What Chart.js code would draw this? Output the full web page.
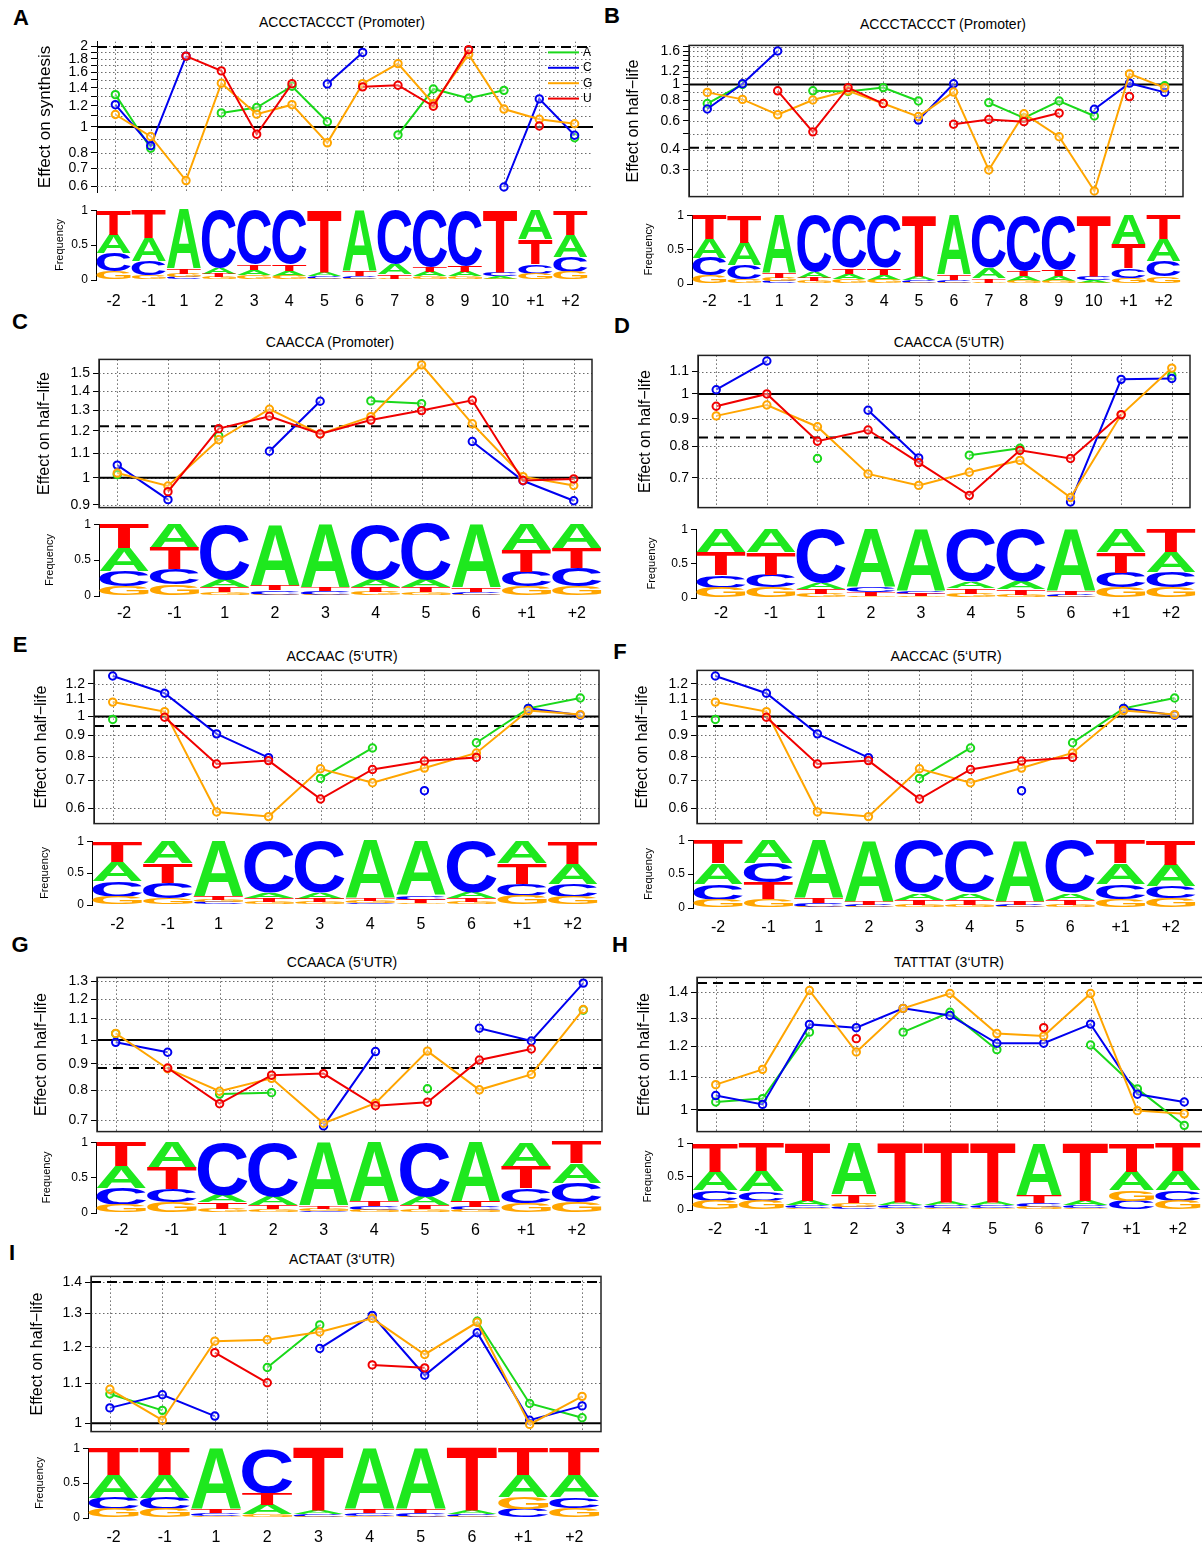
<!DOCTYPE html>
<html>
<head>
<meta charset="utf-8">
<script src="https://cdn.jsdelivr.net/npm/chart.js@4.4.1/dist/chart.umd.min.js"></script>
<style>
  body { margin: 0; background: #fff; width: 1202px; height: 1546px; position: relative; overflow: hidden;
         font-family: "Liberation Sans", Arial, Helvetica, sans-serif; }
  canvas { position: absolute; }
  .plet { position: absolute; font-weight: bold; font-size: 22px; line-height: 22px; transform: translate(-50%, -50%); }
  .ptitle { position: absolute; font-size: 14px; line-height: 16px; white-space: nowrap; transform: translate(-50%, -50%); }
</style>
</head>
<body>
<script>
// positions along the motif
const posAB = ['-2', '-1', '1', '2', '3', '4', '5', '6', '7', '8', '9', '10', '+1', '+2'];
const pos6 = ['-2', '-1', '1', '2', '3', '4', '5', '6', '+1', '+2'];
const pos7 = ['-2', '-1', '1', '2', '3', '4', '5', '6', '7', '+1', '+2'];

// A: ACCCTACCCT (Promoter), effect on synthesis
const synA_A = [1.32, 0.832, null, 1.128, 1.182, 1.42, 1.045, null, 0.934, 1.386, 1.28, 1.37, null, 0.911];
const synA_C = [1.211, 0.851, 1.84, null, null, null, 1.447, 1.899, null, null, null, 0.596, 1.273, 0.931];
const synA_G = [1.113, 0.921, 0.63, 1.456, 1.116, 1.211, 0.872, 1.451, 1.725, 1.222, 1.867, 1.166, 1.068, 1.028];
const synA_U = [null, null, 1.84, 1.62, 0.939, 1.451, null, 1.412, 1.432, 1.195, 1.946, null, 1.008, null];
const dashA = 1.99;

// B: ACCCTACCCT (Promoter), effect on half-life
const hlB_A = [0.764, 1.0, null, 0.914, 0.906, 0.956, 0.792, null, 0.774, 0.624, 0.792, 0.641, null, 0.982];
const hlB_C = [0.708, 1.009, 1.601, null, null, null, 0.605, 1.009, null, null, null, 0.705, 1.018, 0.894];
const hlB_G = [0.894, 0.81, 0.653, 0.803, 0.914, 0.764, 0.636, 0.898, 0.3, 0.662, 0.479, 0.223, 1.16, 0.956];
const hlB_U = [null, null, 0.914, 0.513, 0.956, 0.764, null, 0.571, 0.61, 0.592, 0.668, null, 0.843, null];
const dashB = 0.41;

// C: CAACCA (Promoter)
const hlC_A = [1.012, null, 1.177, null, null, 1.348, 1.334, null, null, null];
const hlC_C = [1.05, 0.918, null, 1.108, 1.346, null, null, 1.151, 0.988, 0.914];
const hlC_G = [1.018, 0.968, 1.159, 1.305, 1.185, 1.268, 1.551, 1.233, 1.004, 0.97];
const hlC_U = [null, 0.947, 1.21, 1.27, 1.185, 1.251, 1.298, 1.351, 0.989, 0.995];
const dashC = 1.221;

// D: CAACCA (5'UTR)
const hlD_A = [null, null, 0.76, null, null, 0.771, 0.794, null, null, 1.081];
const hlD_C = [1.018, 1.15, null, 0.933, 0.762, null, null, 0.632, 1.064, 1.068];
const hlD_G = [0.911, 0.954, 0.87, 0.712, 0.678, 0.717, 0.754, 0.644, 0.915, 1.116];
const hlD_U = [0.949, 1.0, 0.818, 0.858, 0.747, 0.65, 0.787, 0.76, 0.916, null];
const dashD = 0.831;

// E and F: same curves (ACCAAC / AACCAC, 5'UTR)
const hlE_A = [0.984, null, null, null, 0.708, 0.839, null, 0.864, 1.047, 1.109];
const hlE_C = [1.254, 1.139, 0.908, 0.795, null, null, 0.661, null, 1.047, 1.007];
const hlE_G = [1.084, 1.028, 0.587, 0.572, 0.747, 0.691, 0.75, 0.816, 1.034, 1.011];
const hlE_U = [null, 0.996, 0.767, 0.782, 0.631, 0.744, 0.78, 0.796, null, null];
const dashE = 0.949;

// G: CCAACA (5'UTR)
const hlG_A = [1.029, null, 0.786, 0.791, null, null, 0.805, null, null, 1.143];
const hlG_C = [0.99, 0.947, null, null, 0.682, 0.95, null, 1.054, 0.996, 1.289];
const hlG_G = [1.03, 0.88, 0.796, 0.843, 0.69, 0.755, 0.952, 0.801, 0.858, 1.146];
const hlG_U = [null, 0.883, 0.753, 0.855, 0.861, 0.746, 0.758, 0.915, 0.961, null];
const dashG = 0.883;

// H: TATTTAT (3'UTR)
const hlH_A = [1.023, 1.033, 1.249, null, 1.249, 1.322, 1.188, null, 1.204, 1.062, 0.957];
const hlH_C = [1.042, 1.016, 1.277, 1.265, 1.337, 1.31, 1.21, 1.21, 1.278, 1.046, 1.023];
const hlH_G = [1.075, 1.123, 1.407, 1.18, 1.337, 1.395, 1.244, 1.235, 1.395, 0.998, 0.989];
const hlH_U = [null, null, null, 1.226, null, null, null, 1.265, null, null, null];
const dashH = 1.437;

// I: ACTAAT (3'UTR)
const hlI_A = [1.072, 1.031, null, 1.142, 1.264, null, null, 1.275, 1.048, 1.013];
const hlI_C = [1.037, 1.07, 1.017, null, 1.195, 1.293, 1.121, 1.241, 1.007, 1.042];
const hlI_G = [1.084, 1.007, 1.216, 1.22, 1.243, 1.284, 1.178, 1.272, 0.997, 1.066];
const hlI_U = [null, null, 1.183, 1.101, null, 1.149, 1.141, null, null, null];
const dashI = 1.4;

// y ticks (gridlines) and which of them get a label
const ticksA = [0.6, 0.7, 0.8, 0.9, 1, 1.1, 1.2, 1.3, 1.4, 1.5, 1.6, 1.7, 1.8, 1.9, 2];
const labelsA = [0.6, 0.7, 0.8, 1, 1.2, 1.4, 1.6, 1.8, 2];
const ticksB = [0.3, 0.4, 0.5, 0.6, 0.7, 0.8, 0.9, 1, 1.1, 1.2, 1.3, 1.4, 1.5, 1.6, 1.7];
const labelsB = [0.3, 0.4, 0.6, 0.8, 1, 1.2, 1.6];
const ticksC = [0.9, 1, 1.1, 1.2, 1.3, 1.4, 1.5];
const ticksD = [0.7, 0.8, 0.9, 1, 1.1];
const ticksE = [0.6, 0.7, 0.8, 0.9, 1, 1.1, 1.2];
const ticksG = [0.7, 0.8, 0.9, 1, 1.1, 1.2, 1.3];
const ticksH = [1, 1.1, 1.2, 1.3, 1.4];
const ticksI = [1, 1.1, 1.2, 1.3, 1.4];

// sequence logo frequencies (A, C, G, T) per position
const lgAB_A = [.27, .33, .84, .09, .08, .07, .06, .86, .15, .07, .07, .04, .42, .32];
const lgAB_C = [.26, .20, .04, .82, .77, .77, .04, .04, .77, .81, .79, .06, .14, .22];
const lgAB_G = [.12, .07, .05, .04, .07, .06, .02, .02, .02, .05, .05, .02, .09, .11];
const lgAB_T = [.35, .40, .07, .05, .08, .10, .88, .08, .06, .07, .09, .88, .35, .35];

const lgC_A = [.32, .33, .11, .85, .88, .10, .10, .88, .36, .33];
const lgC_C = [.21, .21, .77, .06, .05, .77, .78, .04, .21, .25];
const lgC_G = [.14, .16, .05, .02, .02, .06, .05, .02, .13, .14];
const lgC_T = [.33, .30, .07, .07, .05, .07, .07, .06, .30, .28];

const lgD_A = [.34, .34, .09, .85, .90, .10, .11, .90, .33, .30];
const lgD_C = [.18, .19, .78, .07, .04, .76, .76, .03, .22, .22];
const lgD_G = [.15, .15, .06, .03, .03, .06, .05, .02, .15, .15];
const lgD_T = [.33, .32, .07, .05, .03, .08, .08, .05, .30, .33];

const lgE_A = [.30, .34, .86, .08, .09, .90, .85, .09, .35, .32];
const lgE_C = [.25, .24, .04, .81, .81, .03, .07, .80, .19, .20];
const lgE_G = [.12, .11, .04, .05, .04, .03, .03, .05, .14, .13];
const lgE_T = [.33, .31, .06, .06, .06, .04, .05, .06, .32, .35];

const lgF_A = [.31, .34, .86, .90, .10, .10, .90, .10, .31, .32];
const lgF_C = [.23, .28, .05, .03, .78, .78, .03, .78, .22, .18];
const lgF_G = [.12, .13, .02, .02, .05, .04, .02, .04, .13, .14];
const lgF_T = [.34, .25, .07, .05, .07, .08, .05, .08, .34, .36];

const lgG_A = [.31, .36, .10, .12, .90, .83, .12, .83, .35, .28];
const lgG_C = [.24, .19, .75, .77, .03, .06, .77, .05, .21, .27];
const lgG_G = [.11, .15, .06, .05, .03, .04, .05, .04, .14, .15];
const lgG_T = [.34, .30, .09, .06, .04, .07, .06, .08, .30, .30];

const lgH_A = [.28, .30, .07, .77, .05, .05, .05, .78, .07, .28, .29];
const lgH_C = [.15, .145, .04, .05, .04, .04, .04, .06, .04, .14, .15];
const lgH_G = [.14, .135, .03, .06, .03, .03, .03, .04, .03, .15, .14];
const lgH_T = [.43, .42, .86, .12, .88, .88, .88, .12, .86, .43, .42];

const lgI_A = [.33, .33, .87, .14, .05, .87, .87, .05, .32, .32];
const lgI_C = [.16, .16, .04, .65, .03, .04, .05, .03, .13, .155];
const lgI_G = [.13, .13, .03, .05, .02, .03, .02, .02, .17, .145];
const lgI_T = [.38, .38, .06, .16, .90, .06, .06, .90, .38, .38];

const FONT = '"Liberation Sans", Arial, Helvetica, sans-serif';
Chart.defaults.font.family = FONT;
Chart.defaults.color = '#000';

const BASES = ['A', 'C', 'G', 'U'];
const LINE_COL = ['#1ad81a', '#0000f0', '#ffa500', '#f00000'];
const LOGO_CHR = ['A', 'C', 'G', 'T'];
const LOGO_COL = ['#1ee81e', '#0000ff', '#ffa500', '#ff0000'];

const panels = [
  { key: 'A', at: [21, 18], title: 'ACCCTACCCT (Promoter)', titleAt: [342, 22], pos: posAB,
    series: [synA_A, synA_C, synA_G, synA_U], dash: dashA, ticks: ticksA, labels: labelsA,
    yTitle: 'Effect on synthesis', box: [97, 38, 593, 196], ytx: 45, frame: false, legend: true,
    logo: [lgAB_A, lgAB_C, lgAB_G, lgAB_T], lbox: [96, 208, 588, 280], labY: 299, fx: 60 },
  { key: 'B', at: [612, 16], title: 'ACCCTACCCT (Promoter)', titleAt: [943, 24], pos: posAB,
    series: [hlB_A, hlB_C, hlB_G, hlB_U], dash: dashB, ticks: ticksB, labels: labelsB,
    yTitle: 'Effect on half\u2212life', box: [689, 42, 1183, 200], ytx: 634, frame: true,
    logo: [lgAB_A, lgAB_C, lgAB_G, lgAB_T], lbox: [692, 213, 1181, 284], labY: 299, fx: 649 },
  { key: 'C', at: [20, 322], title: 'CAACCA (Promoter)', titleAt: [330, 342], pos: pos6,
    series: [hlC_A, hlC_C, hlC_G, hlC_U], dash: dashC, ticks: ticksC, labels: ticksC,
    yTitle: 'Effect on half\u2212life', box: [99, 356, 592, 511], ytx: 45, frame: true,
    logo: [lgC_A, lgC_C, lgC_G, lgC_T], lbox: [99, 522, 602, 596], labY: 611, fx: 50 },
  { key: 'D', at: [622, 326], title: 'CAACCA (5\u2018UTR)', titleAt: [949, 342], pos: pos6,
    series: [hlD_A, hlD_C, hlD_G, hlD_U], dash: dashD, ticks: ticksD, labels: ticksD,
    yTitle: 'Effect on half\u2212life', box: [698, 352, 1190, 511], ytx: 646, frame: true,
    logo: [lgD_A, lgD_C, lgD_G, lgD_T], lbox: [696, 527, 1196, 598], labY: 611, fx: 652 },
  { key: 'E', at: [20, 645], title: 'ACCAAC (5\u2018UTR)', titleAt: [342, 656], pos: pos6,
    series: [hlE_A, hlE_C, hlE_G, hlE_U], dash: dashE, ticks: ticksE, labels: ticksE,
    yTitle: 'Effect on half\u2212life', box: [94, 667, 599, 827], ytx: 42, frame: true,
    logo: [lgE_A, lgE_C, lgE_G, lgE_T], lbox: [92, 839, 598, 905], labY: 922, fx: 45 },
  { key: 'F', at: [620, 652], title: 'AACCAC (5\u2018UTR)', titleAt: [946, 656], pos: pos6,
    series: [hlE_A, hlE_C, hlE_G, hlE_U], dash: dashE, ticks: ticksE, labels: ticksE,
    yTitle: 'Effect on half\u2212life', box: [697, 667, 1193, 827], ytx: 643, frame: true,
    logo: [lgF_A, lgF_C, lgF_G, lgF_T], lbox: [693, 838, 1196, 908], labY: 925, fx: 649 },
  { key: 'G', at: [20, 945], title: 'CCAACA (5\u2018UTR)', titleAt: [342, 962], pos: pos6,
    series: [hlG_A, hlG_C, hlG_G, hlG_U], dash: dashG, ticks: ticksG, labels: ticksG,
    yTitle: 'Effect on half\u2212life', box: [97, 974, 602, 1135], ytx: 42, frame: true,
    logo: [lgG_A, lgG_C, lgG_G, lgG_T], lbox: [96, 1140, 602, 1213], labY: 1228, fx: 47 },
  { key: 'H', at: [620, 945], title: 'TATTTAT (3\u2018UTR)', titleAt: [949, 962], pos: pos7,
    series: [hlH_A, hlH_C, hlH_G, hlH_U], dash: dashH, ticks: ticksH, labels: ticksH,
    yTitle: 'Effect on half\u2212life', box: [697, 974, 1203, 1135], ytx: 645, frame: true,
    logo: [lgH_A, lgH_C, lgH_G, lgH_T], lbox: [692, 1141, 1201, 1210], labY: 1227, fx: 648 },
  { key: 'I', at: [12, 1253], title: 'ACTAAT (3\u2018UTR)', titleAt: [342, 1259], pos: pos6,
    series: [hlI_A, hlI_C, hlI_G, hlI_U], dash: dashI, ticks: ticksI, labels: ticksI,
    yTitle: 'Effect on half\u2212life', box: [91, 1273, 601, 1435], ytx: 38, frame: true,
    logo: [lgI_A, lgI_C, lgI_G, lgI_T], lbox: [88, 1446, 600, 1518], labY: 1535, fx: 40 }
];

// R style axis limits: range of everything plotted, widened by 4% on a log scale
function rRange(series, extra) {
  const vals = extra.slice();
  series.forEach(s => s.forEach(v => { if (v != null) vals.push(v); }));
  const lo = Math.log(Math.min(...vals)), hi = Math.log(Math.max(...vals));
  const d = (hi - lo) * 0.04;
  return [Math.exp(lo - d), Math.exp(hi + d)];
}

function fmt(v) { return String(+v.toFixed(2)); }

function addCanvas(left, top, w, h) {
  const c = document.createElement('canvas');
  c.width = w; c.height = h;
  c.style.left = left + 'px'; c.style.top = top + 'px';
  c.style.width = w + 'px'; c.style.height = h + 'px';
  document.body.appendChild(c);
  return c;
}

function addText(cls, text, x, y) {
  const d = document.createElement('div');
  d.className = cls; d.textContent = text;
  d.style.left = x + 'px'; d.style.top = y + 'px';
  document.body.appendChild(d);
}

function refPlugin(p) {
  return {
    id: 'rlines',
    beforeDatasetsDraw(chart) {
      const { ctx, chartArea: a } = chart;
      const x = chart.scales.x, y = chart.scales.y;
      ctx.save();
      ctx.beginPath();
      ctx.rect(a.left, a.top, a.right - a.left, a.bottom - a.top);
      ctx.clip();
      // dotted grid
      ctx.strokeStyle = '#6a6a6a';
      ctx.lineWidth = 1;
      ctx.setLineDash([1.5, 2.5]);
      ctx.beginPath();
      for (let i = 1; i <= p.pos.length; i++) {
        const px = Math.round(x.getPixelForValue(i)) + 0.5;
        ctx.moveTo(px, a.top); ctx.lineTo(px, a.bottom);
      }
      p.ticks.forEach(v => {
        const py = Math.round(y.getPixelForValue(v)) + 0.5;
        ctx.moveTo(a.left, py); ctx.lineTo(a.right, py);
      });
      ctx.stroke();
      // reference lines: no effect and threshold
      ctx.setLineDash([]);
      ctx.strokeStyle = '#000';
      ctx.lineWidth = 2;
      ctx.beginPath();
      const p1 = y.getPixelForValue(1);
      ctx.moveTo(a.left, p1); ctx.lineTo(a.right, p1);
      ctx.stroke();
      ctx.setLineDash([10, 6]);
      ctx.beginPath();
      const pd = y.getPixelForValue(p.dash);
      ctx.moveTo(a.left, pd); ctx.lineTo(a.right, pd);
      ctx.stroke();
      ctx.restore();
    },
    afterDraw(chart) {
      const { ctx, chartArea: a } = chart;
      ctx.save();
      if (p.frame) {
        ctx.strokeStyle = '#222';
        ctx.lineWidth = 1.5;
        ctx.strokeRect(a.left, a.top, a.right - a.left, a.bottom - a.top);
      }
      if (p.legend) {
        ctx.font = '12px ' + FONT;
        ctx.textBaseline = 'middle';
        ctx.textAlign = 'left';
        BASES.forEach((b, k) => {
          const yy = a.top + 11 + k * 15.4;
          ctx.strokeStyle = LINE_COL[k];
          ctx.lineWidth = 2;
          ctx.beginPath();
          ctx.moveTo(a.right - 45, yy); ctx.lineTo(a.right - 14, yy);
          ctx.stroke();
          ctx.fillStyle = '#000';
          ctx.fillText(b, a.right - 10, yy);
        });
      }
      ctx.restore();
    }
  };
}

function lineChart(p) {
  const [L, T, R, B] = p.box;
  const cl = p.ytx - 10, ct = T - 8;
  const cw = R - cl + 6, chh = B - T + 16;
  const canvas = addCanvas(cl, ct, cw, chh);
  const n = p.pos.length, pad = 0.04 * (n - 1);
  const [ymin, ymax] = rRange(p.series, [1, p.dash]);
  new Chart(canvas, {
    type: 'line',
    data: {
      datasets: p.series.map((s, k) => ({
        label: BASES[k],
        data: s.map((v, i) => ({ x: i + 1, y: v })),
        order: 4 - k,
        borderColor: LINE_COL[k],
        backgroundColor: LINE_COL[k],
        borderWidth: 2,
        tension: 0,
        spanGaps: false,
        pointRadius: 3.7,
        pointBorderWidth: 2,
        pointBorderColor: LINE_COL[k],
        pointBackgroundColor: 'rgba(255,255,255,0.35)'
      }))
    },
    options: {
      responsive: false,
      animation: false,
      events: [],
      layout: { padding: { left: 0, top: 8, right: 6, bottom: 8 } },
      plugins: { legend: { display: false }, tooltip: { enabled: false } },
      scales: {
        x: { type: 'linear', display: false, min: 1 - pad, max: n + pad },
        y: {
          type: 'logarithmic',
          min: ymin, max: ymax,
          afterFit: s => { s.width = L - cl; },
          afterBuildTicks: s => { s.ticks = p.ticks.map(v => ({ value: v })); },
          ticks: {
            autoSkip: false,
            padding: 3,
            color: '#000',
            font: { size: 14 },
            callback: v => p.labels.some(l => Math.abs(l - v) < 1e-9) ? fmt(v) : ''
          },
          grid: { drawOnChartArea: false, drawTicks: true, tickLength: 6, color: '#000' },
          border: { display: true, color: '#000', width: 1 },
          title: { display: true, text: p.yTitle, color: '#000', padding: 0,
                   font: { size: p.key === 'A' ? 17 : 16 } }
        }
      }
    },
    plugins: [refPlugin(p)]
  });
}

// stack each position's letters, smallest at the bottom
function logoBars(freqs) {
  const n = freqs[0].length;
  const out = freqs.map(() => []);
  for (let i = 0; i < n; i++) {
    const order = [0, 1, 2, 3].sort((a, b) => freqs[a][i] - freqs[b][i]);
    let acc = 0;
    order.forEach(k => { out[k][i] = [acc, acc + freqs[k][i]]; acc += freqs[k][i]; });
  }
  return out;
}

function drawGlyph(ctx, ch, color, x, y, w, h) {
  ctx.save();
  ctx.font = 'bold 200px ' + FONT;
  ctx.textAlign = 'left';
  ctx.textBaseline = 'alphabetic';
  const m = ctx.measureText(ch);
  const gw = m.actualBoundingBoxLeft + m.actualBoundingBoxRight;
  const gh = m.actualBoundingBoxAscent + m.actualBoundingBoxDescent;
  ctx.translate(x, y);
  ctx.scale(w / gw, h / gh);
  ctx.fillStyle = color;
  ctx.fillText(ch, m.actualBoundingBoxLeft, m.actualBoundingBoxAscent);
  ctx.restore();
}

const letterPlugin = {
  id: 'letters',
  afterDatasetsDraw(chart) {
    const ctx = chart.ctx;
    chart.data.datasets.forEach((ds, k) => {
      chart.getDatasetMeta(k).data.forEach(bar => {
        const { x, y, base, width } = bar.getProps(['x', 'y', 'base', 'width'], true);
        const top = Math.min(y, base), h = Math.abs(base - y);
        if (h < 0.3) return;
        drawGlyph(ctx, LOGO_CHR[k], LOGO_COL[k], x - width / 2 + 0.5, top, width - 1, h);
      });
    });
  }
};

function logoChart(p) {
  const [L, T1, R, T0] = p.lbox;
  const gl = p.fx - 7, gt = T1 - 8;
  const xH = p.labY - T0 + 12;
  const gw = R - gl + 4, gh = (T0 - T1) + 8 + xH;
  const canvas = addCanvas(gl, gt, gw, gh);
  const bars = logoBars(p.logo);
  new Chart(canvas, {
    type: 'bar',
    data: {
      labels: p.pos,
      datasets: bars.map((b, k) => ({
        label: LOGO_CHR[k],
        data: b,
        grouped: false,
        barPercentage: 1,
        categoryPercentage: 1,
        backgroundColor: 'rgba(0,0,0,0)',
        borderWidth: 0
      }))
    },
    options: {
      responsive: false,
      animation: false,
      events: [],
      layout: { padding: { left: 0, top: 8, right: 4, bottom: 0 } },
      plugins: { legend: { display: false }, tooltip: { enabled: false } },
      scales: {
        x: {
          type: 'category',
          afterFit: s => { s.height = xH; },
          grid: { display: false },
          border: { display: false },
          ticks: { color: '#000', font: { size: 16 }, padding: p.labY - T0 - 15, autoSkip: false, maxRotation: 0 }
        },
        y: {
          min: 0, max: 1,
          afterFit: s => { s.width = L - gl; },
          afterBuildTicks: s => { s.ticks = [0, 0.5, 1].map(v => ({ value: v })); },
          ticks: { color: '#000', font: { size: 12 }, padding: 3, callback: v => fmt(v) },
          grid: { drawOnChartArea: false, drawTicks: true, tickLength: 5, color: '#000' },
          border: { display: true, color: '#000', width: 1 },
          title: { display: true, text: 'Frequency', color: '#000', padding: 0, font: { size: 11 } }
        }
      }
    },
    plugins: [letterPlugin]
  });
}

panels.forEach(p => {
  addText('plet', p.key, p.at[0], p.at[1]);
  addText('ptitle', p.title, p.titleAt[0], p.titleAt[1]);
  lineChart(p);
  logoChart(p);
});
</script>
</body>
</html>
